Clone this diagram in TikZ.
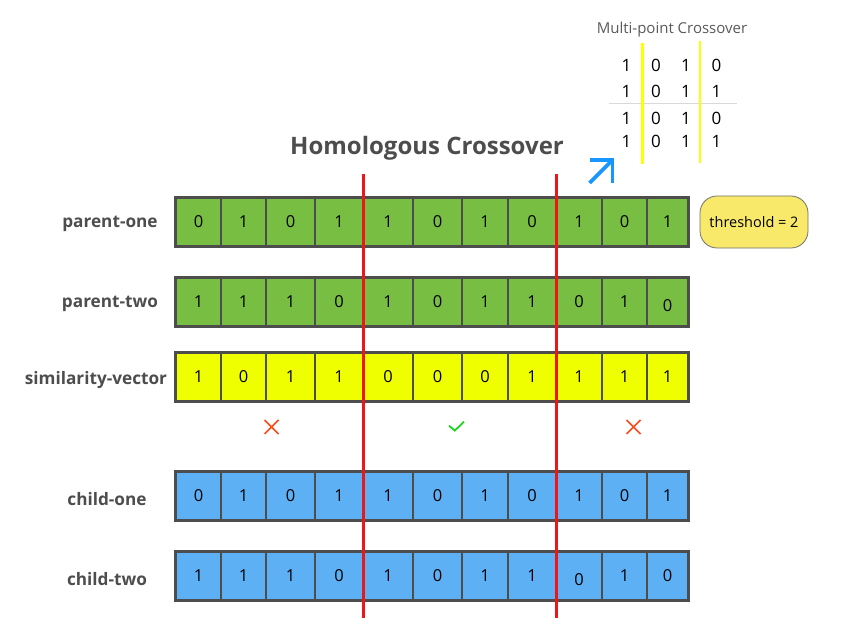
\documentclass[tikz,border=0pt]{standalone}
\usepackage{fontspec}
\setmainfont{Open Sans}
\usetikzlibrary{arrows.meta,calc}
\definecolor{cgreen}{HTML}{77BE43}
\definecolor{cyellow}{HTML}{F0FF00}
\definecolor{cblue}{HTML}{5EB0F5}
\definecolor{cborder}{HTML}{4D4D4D}
\definecolor{cred}{HTML}{EE1616}
\definecolor{cthr}{HTML}{F8E96A}
\definecolor{cx}{HTML}{FF4A1A}
\definecolor{ccheck}{HTML}{1ED41E}
\definecolor{carrow}{HTML}{1896FF}
\definecolor{clabel}{HTML}{4D4D4D}
\definecolor{cinset}{HTML}{5A5A5A}
\definecolor{cyl}{HTML}{FFFF00}
\tikzset{
  cellbox/.style={draw=cborder, line width=1.2pt, inner sep=0pt, font=\fontsize{16.5}{18}\selectfont, text=black},
  rowlbl/.style={font=\fontsize{17.2}{20}\bfseries, text=clabel},
  redline/.style={draw=cred, line width=3pt},
  yline/.style={draw=cyl, line width=2.8pt},
  insetnum/.style={font=\fontsize{17}{19}\selectfont, text=black},
  markx/.style={draw=cx, line width=1.7pt},
  markok/.style={draw=ccheck, line width=1.8pt},
}
\newcommand\lowzero{\vphantom{0}\smash{\raisebox{-4pt}{0}}}
\newcommand\cellrow[4]{%
  \foreach \v [count=\i] in {#4} {
    \pgfmathsetmacro\xa{{176,221,266,315,363,413,462,508,556,602,647,688}[\i-1]}
    \pgfmathsetmacro\xb{{176,221,266,315,363,413,462,508,556,602,647,688}[\i]}
    \pgfmathsetmacro\xw{\xb-\xa}
    \node[cellbox, fill=#3, minimum width=\xw pt, minimum height=48pt] (#1-\i) at ({(\xa+\xb)/2},{#2+24}) {\v};
  }
  \draw[draw=cborder, line width=2.2pt] (#1-1.north west) rectangle (#1-11.south east);
}
\begin{document}
\begin{tikzpicture}[x=1pt,y=-1pt]
\useasboundingbox (0,0) rectangle (845,636);

% title
\node[font=\fontsize{24}{28}\bfseries, text=clabel] (title) at (427,148.5) {Homologous Crossover};

% rows
\cellrow{pa}{198}{cgreen}{0,1,0,1,1,0,1,0,1,0,1}
\cellrow{pb}{278}{cgreen}{1,1,1,0,1,0,1,1,0,1,\lowzero}
\cellrow{sv}{353}{cyellow}{1,0,1,1,0,0,0,1,1,1,1}
\cellrow{ca}{472}{cblue}{0,1,0,1,1,0,1,0,1,0,1}
\cellrow{cb}{552}{cblue}{1,1,1,0,1,0,1,1,\lowzero,1,0}

% row labels
\node[rowlbl] (lpa) at (110,224) {parent-one};
\node[rowlbl] (lpb) at (110,304) {parent-two};
\node[rowlbl] (lsv) at (96,380) {similarity-vector};
\node[rowlbl] (lca) at (107,499) {child-one};
\node[rowlbl] (lcb) at (107,579) {child-two};

% threshold
\node[draw=cborder!80, line width=0.8pt, fill=cthr, rounded corners=17pt, minimum width=108pt, minimum height=52pt, font=\fontsize{14.5}{17}\selectfont] (thr) at (754,222) {threshold = 2};

% red cut lines
\coordinate (r1t) at (363,174);
\coordinate (r1b) at (363,618);
\coordinate (r2t) at (556,174);
\coordinate (r2b) at (556,618);
\draw[redline] (r1t) -- (r1b);
\draw[redline] (r2t) -- (r2b);

% marks
\coordinate (m1) at (271.5,427);
\coordinate (m2) at (456,427);
\coordinate (m3) at (633.5,427);
\draw[markx] ($(m1)+(-7,-7)$) -- ($(m1)+(7,7)$) ($(m1)+(-7,7)$) -- ($(m1)+(7,-7)$);
\draw[markx] ($(m3)+(-7,-7)$) -- ($(m3)+(7,7)$) ($(m3)+(-7,7)$) -- ($(m3)+(7,-7)$);
\draw[markok, line join=miter] ($(m2)+(-7,-1.3)$) -- ($(m2)+(-1.2,3.6)$) -- ($(m2)+(8,-5.3)$);

% inset
\node[font=\fontsize{15}{18}\selectfont, text=cinset] (ititle) at (672,30) {Multi-point Crossover};
\foreach \r/\yy/\vals in {1/65/{1,0,1,0}, 2/91/{1,0,1,1}, 3/118/{1,0,1,0}, 4/141/{1,0,1,1}} {
  \foreach \v [count=\c] in \vals {
    \pgfmathsetmacro\xx{{626.5,656,686,716.5}[\c-1]}
    \node[insetnum] (g\r-\c) at (\xx,\yy) {\v};
  }
}
\coordinate (hl1) at (609,103);
\coordinate (hl2) at (737,103);
\draw[draw=black!15, line width=0.8pt] (hl1) -- (hl2);
\coordinate (y1t) at (642.7,43);
\coordinate (y1b) at (642.7,164);
\coordinate (y2t) at (700,41);
\coordinate (y2b) at (700,163);
\draw[yline] (y1t) -- (y1b);
\draw[yline] (y2t) -- (y2b);

% blue arrow
\coordinate (ab) at (589.5,183);
\coordinate (ae) at (612.5,160);
\coordinate (ah1) at (589.5,160);
\coordinate (ah2) at (612.5,183);
\draw[draw=carrow, line width=3.8pt, line join=miter] (ab) -- (ae);
\draw[draw=carrow, line width=3.8pt, line join=miter] (ah1) -- (ae) -- (ah2);
\end{tikzpicture}
\end{document}
